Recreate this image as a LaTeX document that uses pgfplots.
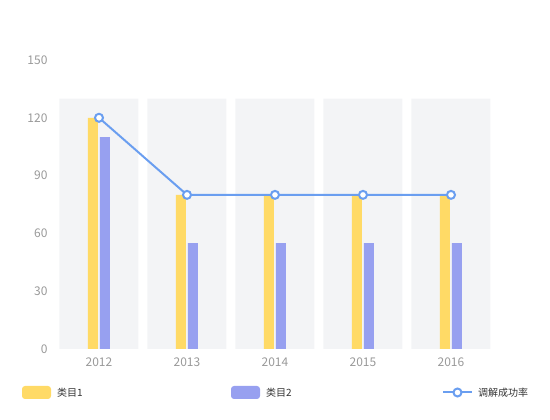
\documentclass[border=0pt]{standalone}
\usepackage{pgfplots}
\pgfplotsset{compat=1.18}
\usepackage{fontspec}
\setmainfont{Noto Sans CJK SC}
\definecolor{band}{HTML}{F3F4F6}
\definecolor{cat1}{HTML}{FFDA66}
\definecolor{cat2}{HTML}{97A0F0}
\definecolor{rate}{HTML}{6A9EF0}
\definecolor{ticktext}{HTML}{999999}
\definecolor{legtext}{HTML}{333333}

\begin{document}
\begin{tikzpicture}
\path[use as bounding box] (0pt,0pt) rectangle (550pt,420pt);
\begin{axis}[
    at={(55pt,71pt)}, anchor=south west,
    scale only axis,
    width=440pt, height=289pt,
    xmin=-0.5, xmax=4.5,
    ymin=0, ymax=150,
    ytick={0,30,...,150},
    xtick={0,...,4},
    xticklabels={2012,2013,2014,2015,2016},
    axis line style={draw=none},
    major tick length=0pt,
    tick label style={font=\fontsize{12}{14}\selectfont, text=ticktext},
    /pgf/number format/assume math mode=true,
    yticklabel style={anchor=east, xshift=-4pt},
    xticklabel style={anchor=north, yshift=-5pt},
    clip=false,
    ]
% background bands
\addplot[ybar, bar width=79pt, bar shift=0pt, fill=band, draw=none]
    coordinates {(0,130) (1,130) (2,130) (3,130) (4,130)};
% 类目1
\addplot[ybar, bar width=10pt, bar shift=-6pt, fill=cat1, draw=none]
    coordinates {(0,120) (1,80) (2,80) (3,80) (4,80)};
% 类目2
\addplot[ybar, bar width=10pt, bar shift=6pt, fill=cat2, draw=none]
    coordinates {(0,110) (1,55) (2,55) (3,55) (4,55)};
% 调解成功率
\addplot[rate, line width=2pt, mark=*, mark size=4pt,
    mark options={fill=white, draw=rate, line width=2pt}]
    coordinates {(0,120) (1,80) (2,80) (3,80) (4,80)};
\end{axis}
% legend
\fill[cat1, rounded corners=3pt] (22pt,21pt) rectangle (51pt,34pt);
\node[anchor=west, inner sep=0pt, font=\fontsize{10}{12}\selectfont, text=legtext] at (57pt,27.5pt) {类目1};
\fill[cat2, rounded corners=3pt] (231pt,21pt) rectangle (260pt,34pt);
\node[anchor=west, inner sep=0pt, font=\fontsize{10}{12}\selectfont, text=legtext] at (266pt,27.5pt) {类目2};
\draw[rate, line width=2pt] (443pt,27.5pt) -- (472pt,27.5pt);
\draw[rate, line width=2pt, fill=white] (457.5pt,27.5pt) circle (4pt);
\node[anchor=west, inner sep=0pt, font=\fontsize{10}{12}\selectfont, text=legtext] at (478pt,27.5pt) {调解成功率};
\end{tikzpicture}
\end{document}
